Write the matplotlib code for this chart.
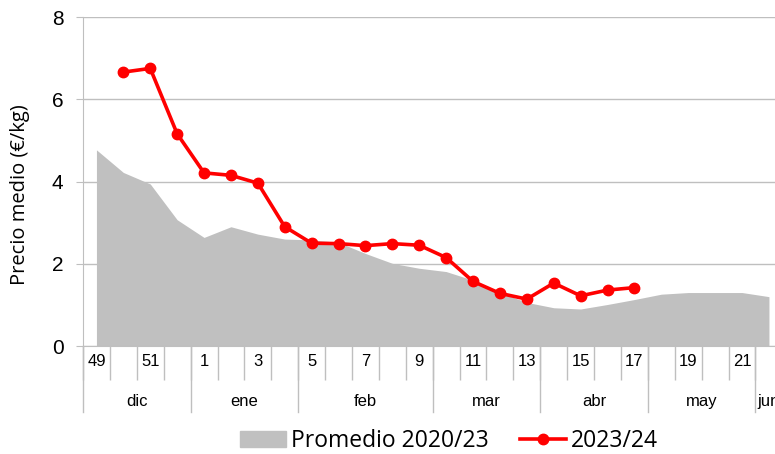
import numpy as np
import matplotlib.pyplot as plt
from matplotlib.patches import Patch
from matplotlib.lines import Line2D

# weeks of the campaign (Dec -> Jun)
weeks = [49, 50, 51, 52] + list(range(1, 23))
# average 2020/23 (€/kg), one value per week
promedio = [4.77, 4.22, 3.94, 3.07, 2.64, 2.90, 2.72, 2.60, 2.58, 2.52, 2.25,
            2.01, 1.89, 1.81, 1.60, 1.30, 1.06, 0.93, 0.90, 1.01, 1.13, 1.26,
            1.30, 1.30, 1.30, 1.20]
# 2023/24 season, weeks 50 to 17
temporada = [6.66, 6.75, 5.16, 4.21, 4.15, 3.96, 2.90, 2.50, 2.49, 2.44, 2.49,
             2.45, 2.15, 1.57, 1.28, 1.14, 1.53, 1.22, 1.36, 1.42]
# months: label and number of weeks
meses = ['dic', 'ene', 'feb', 'mar', 'abr', 'may', 'jun']
semanas_mes = [4, 4, 5, 4, 4, 4, 1]

grid_col = '#bfbfbf'
x = np.arange(len(weeks))

fig = plt.figure(figsize=(7.75, 4.54), dpi=100)
ax = fig.add_axes([83 / 775, 108 / 454, 699.4 / 775, 329 / 454])

# grey area and red line
ax.fill_between(x, 0, promedio, color='#c0c0c0', linewidth=0)
ax.plot(x[1:1 + len(temporada)], temporada, color='#ff0000', lw=2.6,
        marker='o', ms=7.5, zorder=3)

ax.set_xlim(-0.5, len(weeks) - 0.5)
ax.set_ylim(0, 8)
ax.set_yticks([0, 2, 4, 6, 8])
ax.yaxis.grid(True, color=grid_col, lw=1)
ax.set_axisbelow(True)
ax.tick_params(axis='y', length=5, color=grid_col, labelsize=15, pad=9)
for lab in ax.get_yticklabels():
    lab.set_family('Liberation Sans')

for s in ['top', 'right']:
    ax.spines[s].set_visible(False)
ax.spines['left'].set_color(grid_col)
ax.spines['bottom'].set_color(grid_col)

# week labels every other week, separators between weeks
ax.set_xticks(x[::2])
ax.set_xticklabels([str(w) for w in weeks[::2]], family='Liberation Sans',
                   fontsize=12)
ax.tick_params(axis='x', which='major', length=0, pad=6)
ax.set_xticks(np.arange(-0.5, len(weeks) - 0.4, 1), minor=True)
ax.tick_params(axis='x', which='minor', length=24.5, color=grid_col, width=1)

# month separators and labels below
trans = ax.get_xaxis_transform()
pos = -0.5
ax.plot([pos, pos], [0, -0.2], transform=trans, color=grid_col, lw=1,
        clip_on=False)
for m, n in zip(meses, semanas_mes):
    ax.text(pos + n / 2, -0.17, m, transform=trans, ha='center', va='center',
            family='Liberation Sans', fontsize=12)
    pos += n
    ax.plot([pos, pos], [0, -0.2], transform=trans, color=grid_col, lw=1,
            clip_on=False)

fig.text(20 / 775, 1 - 195 / 454, 'Precio medio (€/kg)', rotation=90,
         ha='center', va='center', family='Open Sans', fontsize=14.5)

handles = [Patch(color='#c0c0c0'),
           Line2D([], [], color='#ff0000', lw=2.6, marker='o', ms=7.5)]
fig.legend(handles, ['Promedio 2020/23', '2023/24'], loc='center',
           bbox_to_anchor=(449 / 775, 1 - 441 / 454), ncol=2, frameon=False,
           prop={'family': 'Open Sans', 'size': 16.5}, handlelength=2.0,
           handletextpad=0.2, columnspacing=1.4)

fig.savefig('out.png', dpi=100)
